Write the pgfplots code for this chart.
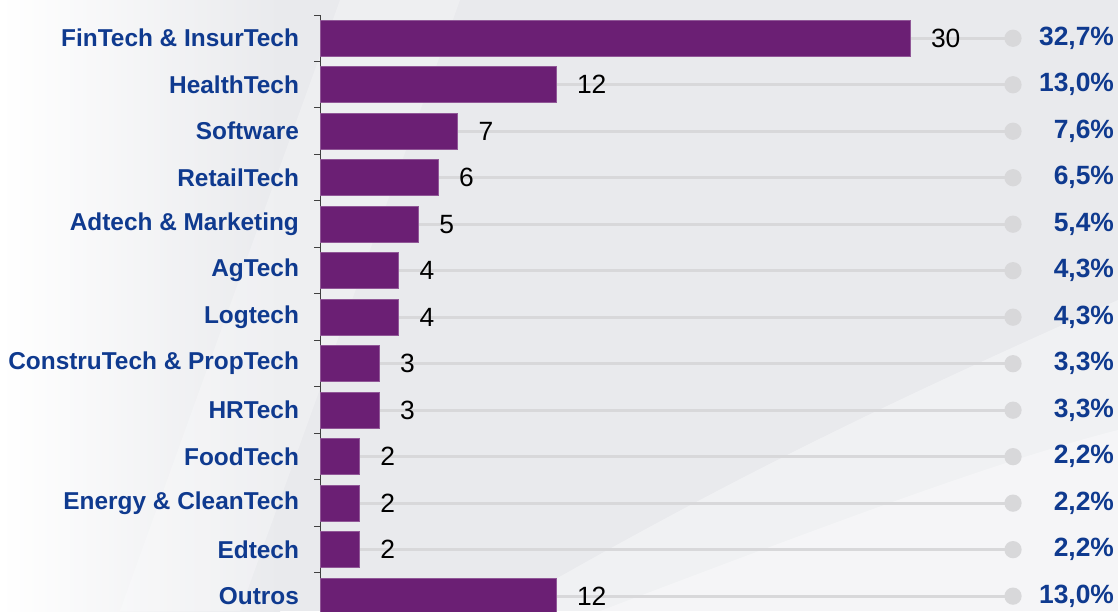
\documentclass[border=0pt]{standalone}
\usepackage{pgfplots}
\pgfplotsset{compat=1.18}
\usepackage{pgfplotstable}
\usepackage{fontspec}
\setmainfont{Liberation Sans}

\definecolor{barpurple}{HTML}{6B1F74}
\definecolor{catblue}{HTML}{0F3A8F}
\definecolor{linegray}{HTML}{D8D8DA}
\definecolor{bggray}{HTML}{E9EAED}

% startups per segment
\pgfplotstableread{
y n
0 30
1 12
2 7
3 6
4 5
5 4
6 4
7 3
8 3
9 2
10 2
11 2
12 12
}\counts

% share of total, drawn at the end of the guide lines
\pgfplotstableread{
y end pct
0 35.24 32,7\%
1 35.24 13,0\%
2 35.24 7,6\%
3 35.24 6,5\%
4 35.24 5,4\%
5 35.24 4,3\%
6 35.24 4,3\%
7 35.24 3,3\%
8 35.24 3,3\%
9 35.24 2,2\%
10 35.24 2,2\%
11 35.24 2,2\%
12 35.24 13,0\%
}\shares

\begin{document}
\begin{tikzpicture}
\clip (0,0) rectangle (559pt,-305.5pt);
\fill[bggray] (0,0) rectangle (559pt,-305.5pt);
\shade[left color=white, right color=bggray] (0,0) rectangle (140pt,-305.5pt);
% soft background swoops
\fill[white, opacity=0.35] (250pt,-305.5pt) .. controls (380pt,-230pt) and (470pt,-190pt) .. (559pt,-150pt)
  -- (559pt,-305.5pt) -- cycle;
\fill[white, opacity=0.35] (300pt,-305.5pt) .. controls (420pt,-260pt) and (500pt,-230pt) .. (559pt,-215pt)
  -- (559pt,-305.5pt) -- cycle;
\fill[white, opacity=0.25] (170pt,0pt) -- (230pt,0pt) -- (120pt,-305.5pt) -- (60pt,-305.5pt) -- cycle;

\begin{axis}[
    at={(160pt,-7.5pt)}, anchor=north west,
    scale only axis,
    width=346.5pt, height=298pt,
    xmin=0, xmax=35.24,
    ymin=-0.5, ymax=12.32,
    y dir=reverse,
    clip=false,
    axis x line=none,
    axis y line*=left,
    y axis line style={draw=black!75, line width=0.5pt},
    ytick={0,...,12},
    yticklabels={FinTech \& InsurTech, HealthTech\hspace{4pt}, Software, RetailTech,
        Adtech \& Marketing, AgTech, Logtech, ConstruTech \& PropTech, HRTech,
        FoodTech, Energy \& CleanTech, Edtech, Outros},
    major tick length=0pt,
    minor ytick={-0.5,0.5,...,11.5},
    minor tick length=3pt,
    tick align=outside,
    minor tick style={draw=black!75, line width=0.5pt},
    yticklabel style={font=\bfseries\fontsize{12.2}{14}\selectfont, text=catblue, xshift=-7pt},
    /pgf/number format/assume math mode=true,
]
% grey guide lines with end dots
\addplot[xcomb, draw=linegray, line width=1.4pt,
    mark=*, mark size=3.6pt, mark options={fill=linegray, draw=linegray},
    point meta=explicit symbolic,
    nodes near coords,
    nodes near coords style={anchor=east, xshift=54.5pt, text=catblue,
        font=\bfseries\fontsize{13.2}{15}\selectfont}]
    table[x=end, y=y, meta=pct] {\shares};
% bars
\addplot[xbar, bar width=18pt, fill=barpurple, draw=barpurple!75!white, line width=0.4pt,
    nodes near coords,
    nodes near coords style={anchor=west, xshift=7pt, text=black,
        font=\fontsize{13.2}{15}\selectfont}]
    table[x=n, y=y] {\counts};
\end{axis}
\end{tikzpicture}
\end{document}
